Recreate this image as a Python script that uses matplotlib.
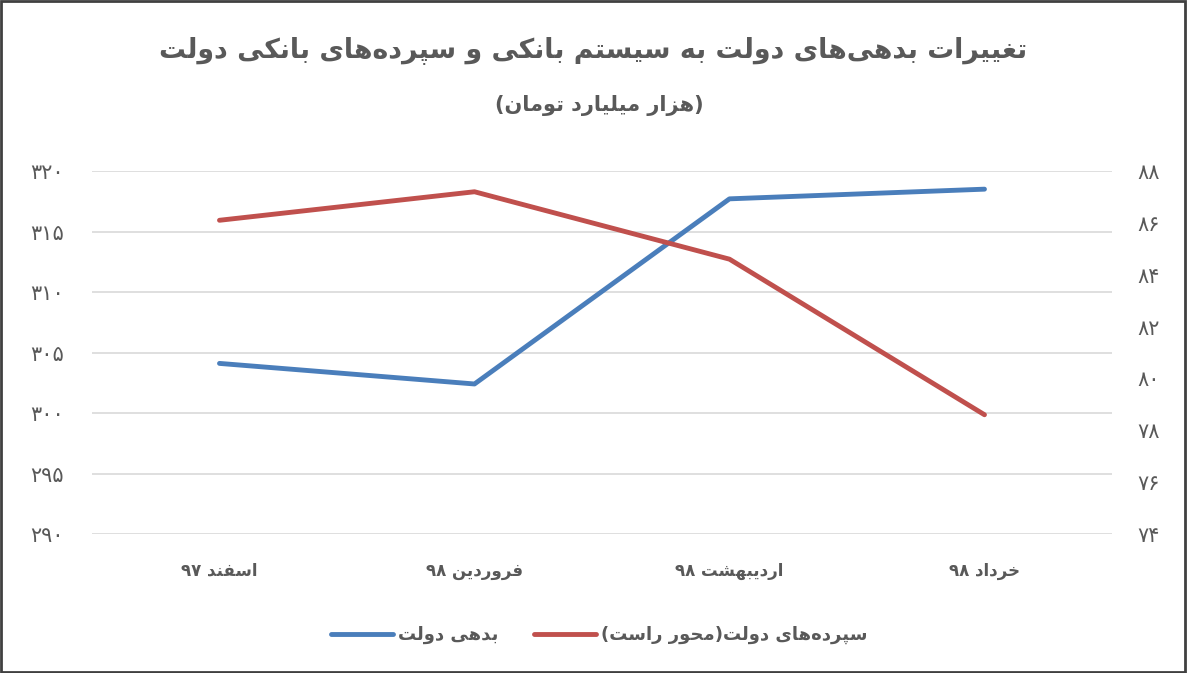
import re
import matplotlib
matplotlib.use('Agg')
import matplotlib.pyplot as plt
from matplotlib.patches import Rectangle
from matplotlib.ticker import FuncFormatter, MultipleLocator

# داده‌ها
months = ['اسفند ۹۷', 'فروردین ۹۸', 'اردیبهشت ۹۸', 'خرداد ۹۸']
debt = [304.1, 302.4, 317.7, 318.5]      # بدهی دولت (محور چپ)
deposits = [86.1, 87.2, 84.6, 78.6]      # سپرده‌های دولت (محور راست)

title = 'تغییرات بدهی‌های دولت به سیستم بانکی و سپرده‌های بانکی دولت'
subtitle = '(هزار میلیارد تومان)'
debt_label = 'بدهی دولت'
dep_label = 'سپرده‌های دولت(محور راست)'

# matplotlib حروف فارسی را به هم نمی‌چسباند، پس شکل حروف را دستی می‌سازیم
# (isolated, final, initial, medial)
FORMS = {
    'ا': ('\uFE8D', '\uFE8E', None, None),
    'ب': ('\uFE8F', '\uFE90', '\uFE91', '\uFE92'),
    'پ': ('\uFB56', '\uFB57', '\uFB58', '\uFB59'),
    'ت': ('\uFE95', '\uFE96', '\uFE97', '\uFE98'),
    'ح': ('\uFEA1', '\uFEA2', '\uFEA3', '\uFEA4'),
    'خ': ('\uFEA5', '\uFEA6', '\uFEA7', '\uFEA8'),
    'د': ('\uFEA9', '\uFEAA', None, None),
    'ر': ('\uFEAD', '\uFEAE', None, None),
    'ز': ('\uFEAF', '\uFEB0', None, None),
    'س': ('\uFEB1', '\uFEB2', '\uFEB3', '\uFEB4'),
    'ش': ('\uFEB5', '\uFEB6', '\uFEB7', '\uFEB8'),
    'غ': ('\uFECD', '\uFECE', '\uFECF', '\uFED0'),
    'ف': ('\uFED1', '\uFED2', '\uFED3', '\uFED4'),
    'ک': ('\uFB8E', '\uFB8F', '\uFB90', '\uFB91'),
    'ل': ('\uFEDD', '\uFEDE', '\uFEDF', '\uFEE0'),
    'م': ('\uFEE1', '\uFEE2', '\uFEE3', '\uFEE4'),
    'ن': ('\uFEE5', '\uFEE6', '\uFEE7', '\uFEE8'),
    'ه': ('\uFEE9', '\uFEEA', '\uFEEB', '\uFEEC'),
    'و': ('\uFEED', '\uFEEE', None, None),
    'ی': ('\uFBFC', '\uFBFD', '\uFBFE', '\uFBFF'),
}
DIGITS = '0123456789۰۱۲۳۴۵۶۷۸۹'
MIRROR = str.maketrans('()', ')(')
FA_DIGITS = str.maketrans('0123456789', '۰۱۲۳۴۵۶۷۸۹')


def shape(s):
    out = []
    for i, c in enumerate(s):
        if c not in FORMS:
            if c != '\u200c':
                out.append(c)
            continue
        prev = s[i - 1] if i > 0 else ''
        nxt = s[i + 1] if i + 1 < len(s) else ''
        p = prev in FORMS and FORMS[prev][2] is not None
        n = nxt in FORMS and FORMS[c][2] is not None
        iso, fin, ini, med = FORMS[c]
        if p and n:
            out.append(med)
        elif p:
            out.append(fin)
        elif n:
            out.append(ini)
        else:
            out.append(iso)
    return ''.join(out)


def rtl(s):
    # ترتیب نمایشی: متن برعکس می‌شود ولی اعداد همان‌طور می‌مانند
    s = shape(s)
    runs = re.findall('[' + DIGITS + ']+|[^' + DIGITS + ']+', s)
    out = []
    for r in reversed(runs):
        if r[0] in DIGITS:
            out.append(r)
        else:
            out.append(r[::-1].translate(MIRROR))
    return ''.join(out)


gray = '#595959'
blue = '#4A7EBB'
red = '#C0504D'

plt.rcParams['font.family'] = ['DejaVu Sans']

fig = plt.figure(figsize=(11.87, 6.73), dpi=100)
ax = fig.add_axes([0.0775, 0.2065, 0.8593, 0.5394])
ax2 = ax.twinx()

x = range(len(months))
l1, = ax.plot(x, debt, color=blue, lw=3.5, solid_capstyle='round', solid_joinstyle='round')
l2, = ax2.plot(x, deposits, color=red, lw=3.5, solid_capstyle='round', solid_joinstyle='round')

ax.set_xlim(-0.5, len(months) - 0.5)
ax.set_ylim(290, 320)
ax2.set_ylim(74, 88)
ax.yaxis.set_major_locator(MultipleLocator(5))
ax2.yaxis.set_major_locator(MultipleLocator(2))
fmt = FuncFormatter(lambda v, pos: str(int(round(v))).translate(FA_DIGITS))
ax.yaxis.set_major_formatter(fmt)
ax2.yaxis.set_major_formatter(fmt)

ax.set_xticks(list(x))
ax.set_xticklabels([rtl(m) for m in months], fontweight='bold')
ax.grid(axis='y', color='#D9D9D9', lw=1.2)
ax.set_axisbelow(True)

for a in (ax, ax2):
    for sp in a.spines.values():
        sp.set_visible(False)
ax.tick_params(axis='y', length=0, pad=20, labelsize=15, labelcolor=gray)
ax2.tick_params(axis='y', length=0, pad=18, labelsize=15, labelcolor=gray)
ax.tick_params(axis='x', length=0, pad=20, labelsize=12, labelcolor=gray)

fig.text(0.5, 0.925, rtl(title), ha='center', va='center', fontsize=19.3,
         fontweight='bold', color=gray)
fig.text(0.505, 0.843, rtl(subtitle), ha='center', va='center', fontsize=15,
         fontweight='bold', color=gray)

ax.legend([l1, l2], [rtl(debt_label), rtl(dep_label)], loc='center',
          bbox_to_anchor=(0.505, 0.0565), bbox_transform=fig.transFigure,
          ncol=2, frameon=False, handlelength=3.4, handletextpad=0.3,
          columnspacing=2.0, labelcolor=gray, prop={'weight': 'bold', 'size': 13})

fig.patches.append(Rectangle((0.001, 0.001), 0.997, 0.997, transform=fig.transFigure,
                             fill=False, edgecolor='#404040', lw=2))

fig.savefig('out.png', dpi=100)
